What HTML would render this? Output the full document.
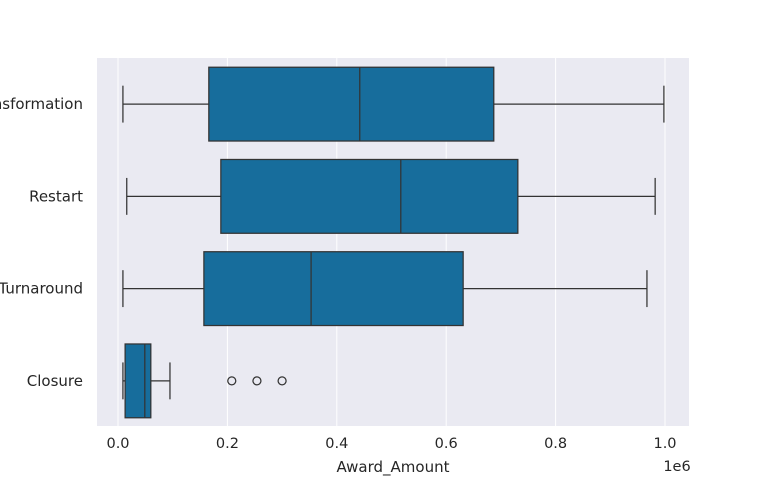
<!DOCTYPE html>
<html><head><meta charset="utf-8"><style>
body{margin:0;background:#fff;}
svg text{font-family:"DejaVu Sans","Liberation Sans",sans-serif;fill:#262626;}
</style></head><body>
<svg id="chart" width="768" height="480" xmlns="http://www.w3.org/2000/svg">
<rect x="97" y="58" width="592" height="368" fill="#eaeaf2"/>
<g id="grid"></g><g id="boxes"></g><g id="axes"></g>
<text x="393" y="472" font-size="15" text-anchor="middle">Award_Amount</text>
<text x="677" y="471" font-size="14.5" text-anchor="middle">1e6</text>
</svg>
<script>
const categories=["Transformation","Restart","Turnaround","Closure"];
const mins=[0.009,0.016,0.009,0.009];
const q1s=[0.166,0.188,0.157,0.013];
const medians=[0.442,0.517,0.353,0.049];
const q3s=[0.687,0.731,0.631,0.060];
const maxs=[0.998,0.982,0.967,0.095];
const outliers=[[],[],[],[0.208,0.254,0.300]];
const ticks=[0,0.2,0.4,0.6,0.8,1.0];
const tickLabels=["0.0","0.2","0.4","0.6","0.8","1.0"];
const NS="http://www.w3.org/2000/svg";
const x=v=>118+v*547;
const band=92.25;
const yc=i=>58+band*(i+0.5);
function mk(tag,attrs,parent){const e=document.createElementNS(NS,tag);for(const k in attrs)e.setAttribute(k,attrs[k]);parent.appendChild(e);return e;}
const grid=document.getElementById('grid'),boxes=document.getElementById('boxes'),axes=document.getElementById('axes');
ticks.forEach((t,i)=>{
  const l=mk('line',{x1:x(t),x2:x(t),y1:58,y2:426,stroke:'#fff','stroke-width':1},grid);
  
  
  const tx=mk('text',{x:x(t),y:448,'font-size':14.5,'text-anchor':'middle'},axes);
  tx.textContent=tickLabels[i];
  
  
});
const bh=band*0.8,c='#333333';
categories.forEach((cat,i)=>{
  const y=yc(i);
  const g=mk('g',{},boxes);
  
  
  mk('line',{x1:x(mins[i]),x2:x(q1s[i]),y1:y,y2:y,stroke:c,'stroke-width':1.25},g);
  mk('line',{x1:x(q3s[i]),x2:x(maxs[i]),y1:y,y2:y,stroke:c,'stroke-width':1.25},g);
  mk('line',{x1:x(mins[i]),x2:x(mins[i]),y1:y-bh/4,y2:y+bh/4,stroke:c,'stroke-width':1.25},g);
  mk('line',{x1:x(maxs[i]),x2:x(maxs[i]),y1:y-bh/4,y2:y+bh/4,stroke:c,'stroke-width':1.25},g);
  mk('rect',{x:x(q1s[i]),y:y-bh/2,width:x(q3s[i])-x(q1s[i]),height:bh,fill:'#176d9c',stroke:c,'stroke-width':1.25},g);
  mk('line',{x1:x(medians[i]),x2:x(medians[i]),y1:y-bh/2,y2:y+bh/2,stroke:c,'stroke-width':1.25},g);
  outliers[i].forEach(o=>{
    const p=mk('circle',{cx:x(o),cy:y,r:4,fill:'none',stroke:c,'stroke-width':1.25},g);
    
    
  });
  const t=mk('text',{x:83,y:y+5,'font-size':15,'text-anchor':'end'},axes);
  t.textContent=cat;
  
  
});
</script>
</body></html>
